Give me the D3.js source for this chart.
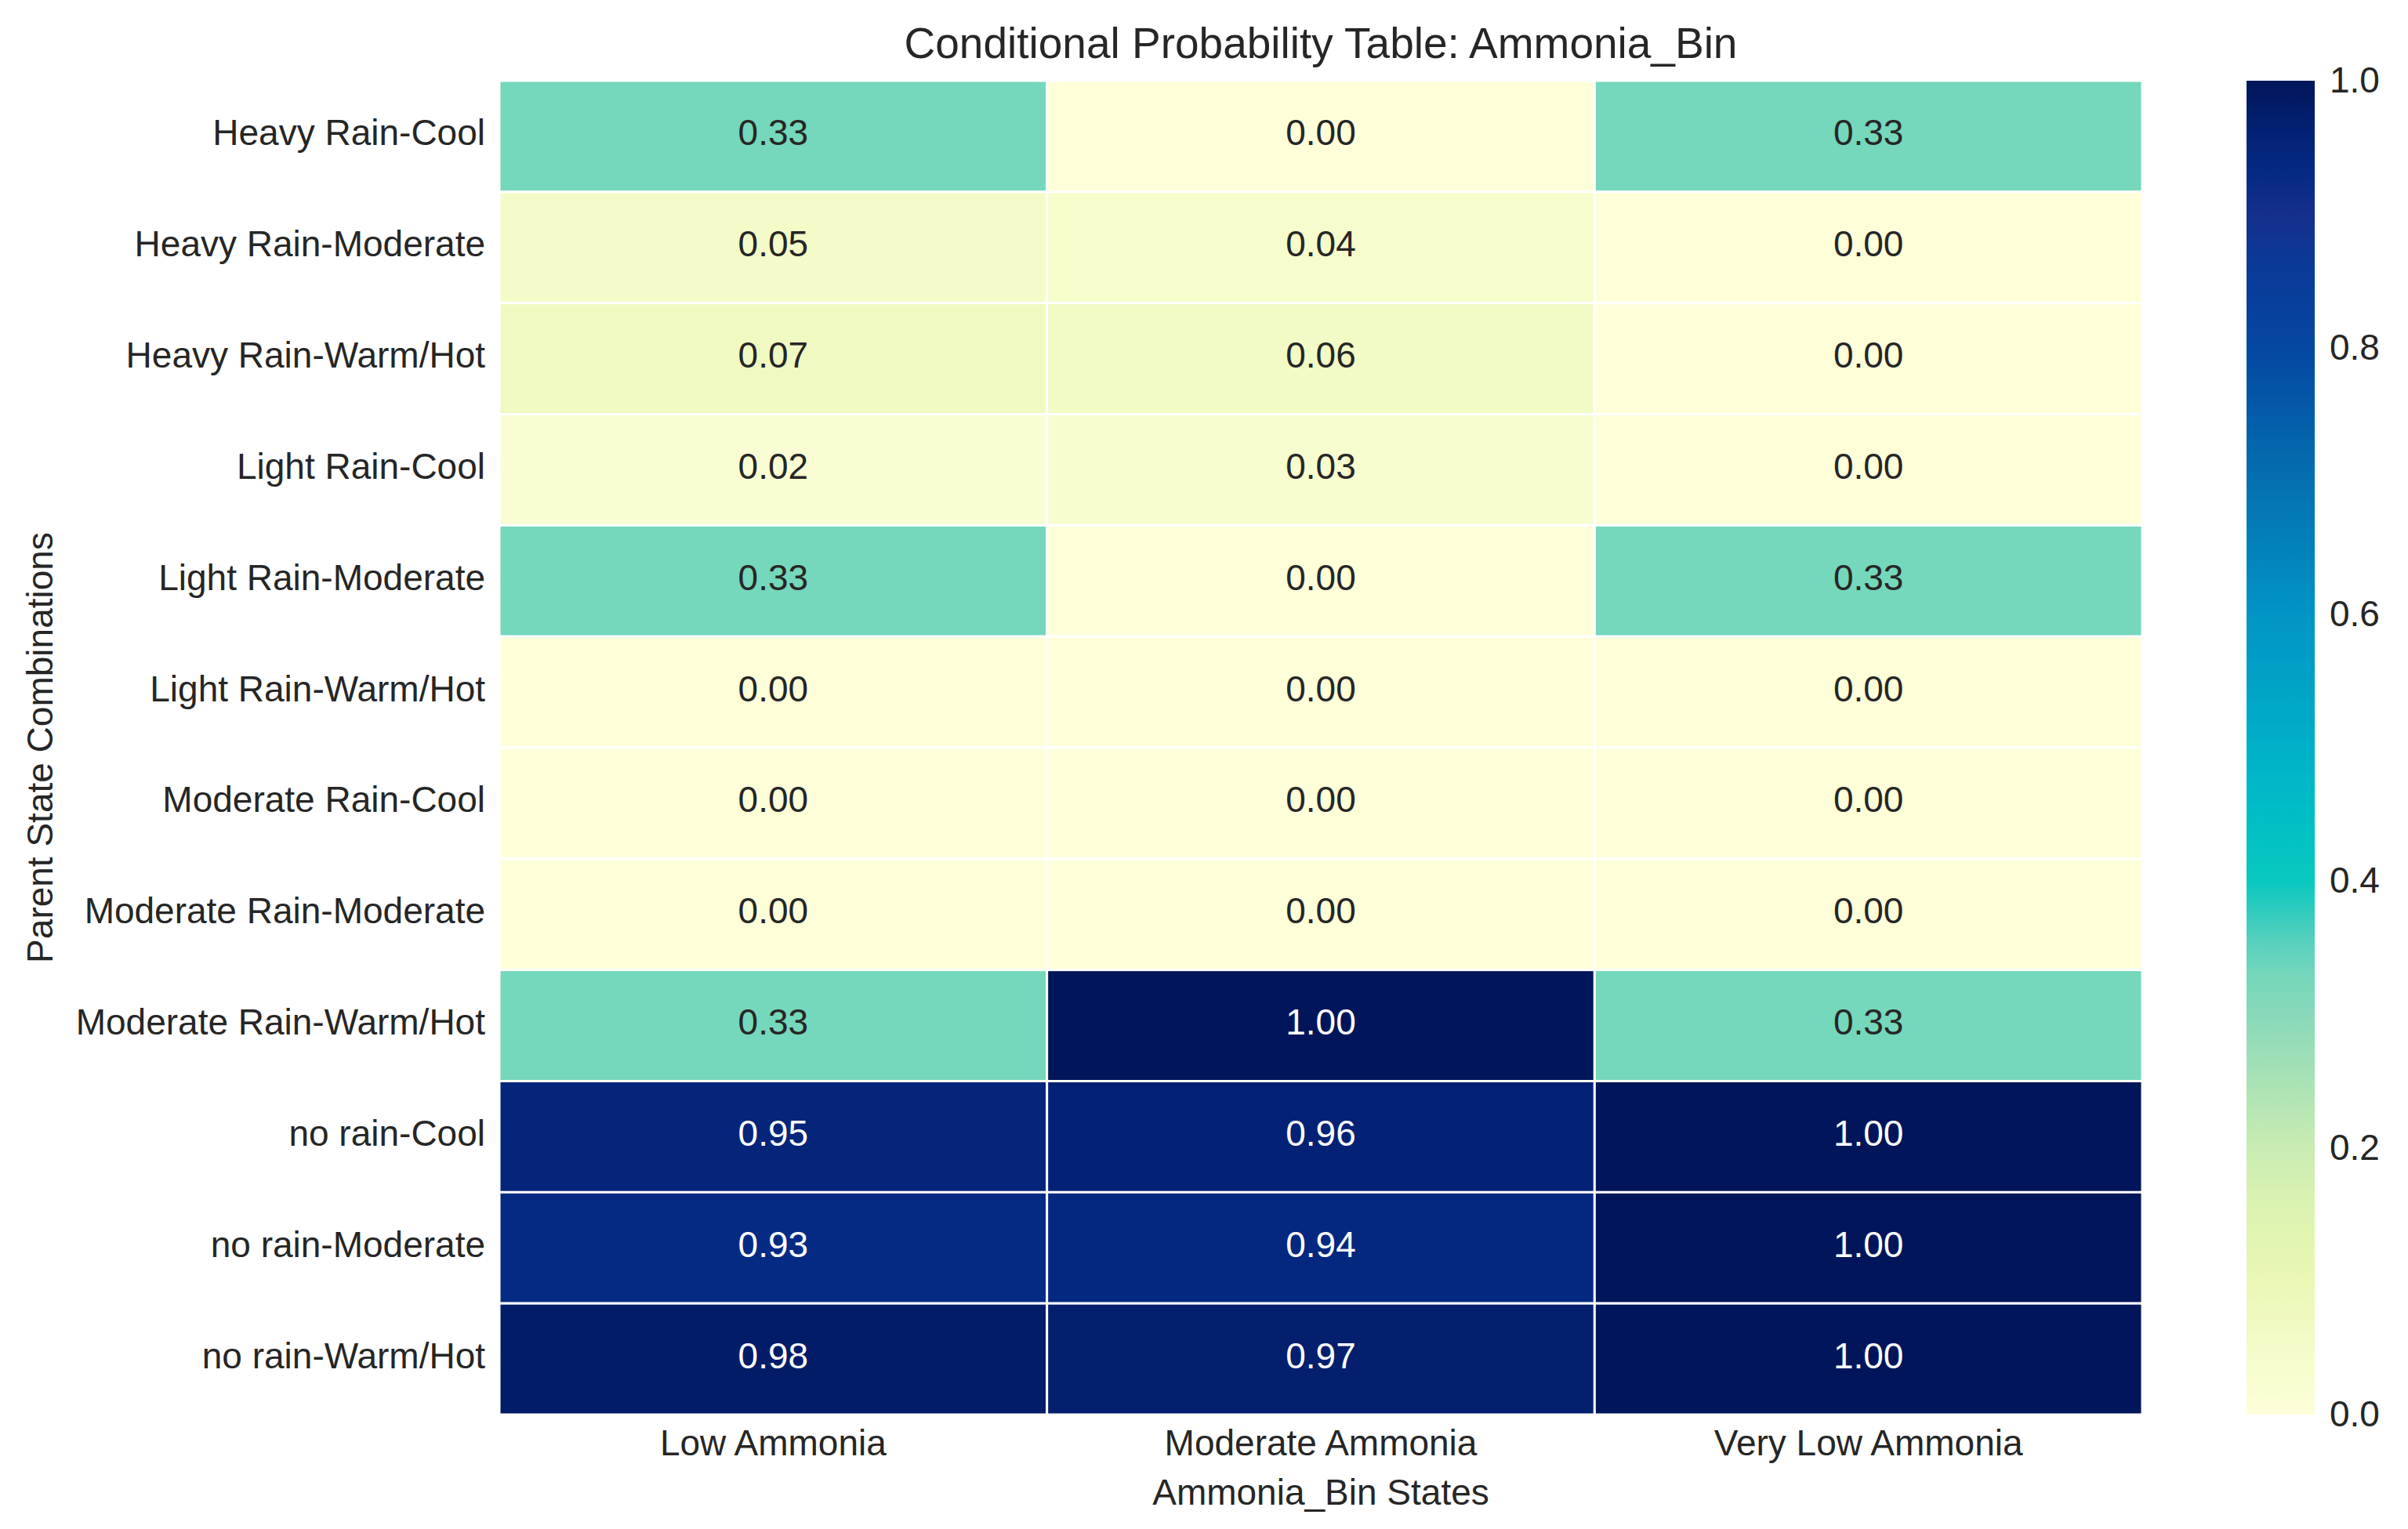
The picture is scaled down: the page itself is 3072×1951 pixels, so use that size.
<!DOCTYPE html>
<html>
<head>
<meta charset="utf-8">
<script src="https://cdn.jsdelivr.net/npm/d3@7"></script>
<style>
  html, body { margin: 0; padding: 0; background: #ffffff; }
  svg { display: block; font-family: "Liberation Sans", Arial, "DejaVu Sans", sans-serif; }
</style>
</head>
<body>
<svg id="chart" width="3072" height="1951"></svg>
<script>
// ---------- data ----------
const title = "Conditional Probability Table: Ammonia_Bin";
const xTitle = "Ammonia_Bin States";
const yTitle = "Parent State Combinations";
const parentStates = [
  "Heavy Rain-Cool", "Heavy Rain-Moderate", "Heavy Rain-Warm/Hot",
  "Light Rain-Cool", "Light Rain-Moderate", "Light Rain-Warm/Hot",
  "Moderate Rain-Cool", "Moderate Rain-Moderate", "Moderate Rain-Warm/Hot",
  "no rain-Cool", "no rain-Moderate", "no rain-Warm/Hot"
];
const ammoniaStates = ["Low Ammonia", "Moderate Ammonia", "Very Low Ammonia"];
const lowAmmonia      = [0.33, 0.05, 0.07, 0.02, 0.33, 0.00, 0.00, 0.00, 0.33, 0.95, 0.93, 0.98];
const moderateAmmonia = [0.00, 0.04, 0.06, 0.03, 0.00, 0.00, 0.00, 0.00, 1.00, 0.96, 0.94, 0.97];
const veryLowAmmonia  = [0.33, 0.00, 0.00, 0.00, 0.33, 0.00, 0.00, 0.00, 0.33, 1.00, 1.00, 1.00];
const colorbarTicks = [0.0, 0.2, 0.4, 0.6, 0.8, 1.0];

// colour ramp (YlGnBu as rendered in the reference)
const rampStops = [0, 0.05, 0.1, 0.15, 0.2, 0.25, 0.3, 0.33, 0.36, 0.4, 0.45, 0.5, 0.6, 0.7, 0.8, 0.86, 0.9, 0.93, 0.96, 1.0];
const rampColors = ["#feffd9", "#f4fbc9", "#eaf7b6", "#ddf3b1", "#c9ecb2", "#a9e2b5", "#88d9b9", "#75d7bb", "#4fcfbd", "#08c8bf",
                    "#00bec5", "#00b0c8", "#0194c4", "#0470b0", "#0447a1", "#0a3a98", "#152f8c", "#052a84", "#032275", "#01165a"];

const columnsData = [lowAmmonia, moderateAmmonia, veryLowAmmonia];
const cells = [];
parentStates.forEach((r, i) => ammoniaStates.forEach((c, j) => cells.push({ row: r, col: c, value: columnsData[j][i] })));

// ---------- layout ----------
const svg = d3.select("#chart");
const plot = { left: 637, right: 2733, top: 103, bottom: 1805 };
const cbar = { left: 2866, right: 2953 };
const FS = 46;

svg.append("rect").attr("width", 3072).attr("height", 1951).attr("fill", "#ffffff");

const x = d3.scaleBand().domain(ammoniaStates).range([plot.left, plot.right]).padding(0);
const y = d3.scaleBand().domain(parentStates).range([plot.top, plot.bottom]).padding(0);
const color = d3.scaleLinear().domain(rampStops).range(rampColors).interpolate(d3.interpolateRgb).clamp(true);

// cells
svg.append("g").selectAll("rect").data(cells).join("rect")
  .attr("x", d => x(d.col)).attr("y", d => y(d.row))
  .attr("width", x.bandwidth()).attr("height", y.bandwidth())
  .attr("fill", d => color(d.value))
  .attr("stroke", "#ffffff").attr("stroke-width", 3);

// annotations
svg.append("g").selectAll("text").data(cells).join("text")
  .attr("x", d => x(d.col) + x.bandwidth() / 2)
  .attr("y", d => y(d.row) + y.bandwidth() / 2)
  .attr("dy", "0.25em")
  .attr("text-anchor", "middle")
  .attr("font-size", 46)
  .attr("fill", d => d.value > 0.55 ? "#ffffff" : "#262626")
  .text(d => d3.format(".2f")(d.value));

// axes
const yAxis = svg.append("g").attr("transform", `translate(${plot.left},0)`)
  .call(d3.axisLeft(y).tickSize(0).tickPadding(18));
yAxis.select(".domain").remove();
yAxis.selectAll("text").attr("font-size", FS).attr("fill", "#262626").attr("dy", "0.25em")
  .attr("font-family", "Liberation Sans, Arial, sans-serif");

const xAxis = svg.append("g").attr("transform", `translate(0,${plot.bottom})`)
  .call(d3.axisBottom(x).tickSize(0).tickPadding(19));
xAxis.select(".domain").remove();
xAxis.selectAll("text").attr("font-size", FS).attr("fill", "#262626")
  .attr("font-family", "Liberation Sans, Arial, sans-serif");

// titles
svg.append("text").attr("x", (plot.left + plot.right) / 2).attr("y", 74)
  .attr("text-anchor", "middle").attr("font-size", 55).attr("fill", "#262626").text(title);
svg.append("text").attr("x", (plot.left + plot.right) / 2).attr("y", 1920)
  .attr("text-anchor", "middle").attr("font-size", FS).attr("fill", "#262626").text(xTitle);
svg.append("text").attr("transform", `translate(67,${(plot.top + plot.bottom) / 2}) rotate(-90)`)
  .attr("text-anchor", "middle").attr("font-size", FS).attr("fill", "#262626").text(yTitle);

// colorbar
const cy = d3.scaleLinear().domain([0, 1]).range([plot.bottom, plot.top]);
const defs = svg.append("defs");
const grad = defs.append("linearGradient").attr("id", "cbgrad")
  .attr("x1", 0).attr("y1", 1).attr("x2", 0).attr("y2", 0);
grad.selectAll("stop").data(d3.range(0, 1.0001, 0.01)).join("stop")
  .attr("offset", d => d).attr("stop-color", d => color(d));
svg.append("rect").attr("x", cbar.left).attr("y", cy(1))
  .attr("width", cbar.right - cbar.left).attr("height", cy(0) - cy(1))
  .attr("fill", "url(#cbgrad)");
const cAxis = svg.append("g").attr("transform", `translate(${cbar.right},0)`)
  .call(d3.axisRight(cy).tickValues(colorbarTicks).tickFormat(d3.format(".1f")).tickSize(0).tickPadding(19));
cAxis.select(".domain").remove();
cAxis.selectAll("text").attr("font-size", FS).attr("fill", "#262626")
  .attr("font-family", "Liberation Sans, Arial, sans-serif");
</script>
</body>
</html>
